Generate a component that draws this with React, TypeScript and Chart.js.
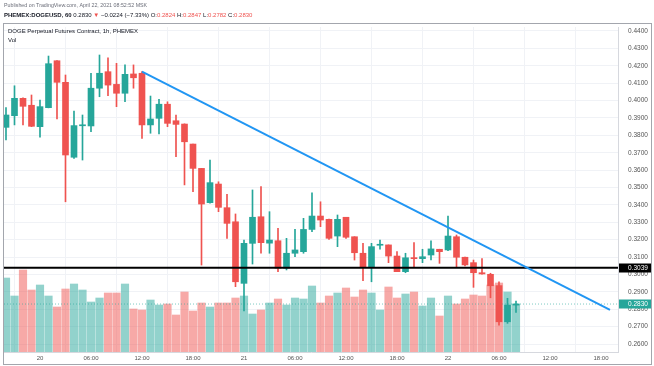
import React, { useEffect, useRef } from "react";
import { Chart, registerables } from "chart.js";

Chart.register(...registerables);

// ---- data (hourly candles, first = 19 Apr 20:00, last = 22 Apr 08:00) ----
const openP = [
  0.3846, 0.3913, 0.4013, 0.3973, 0.385, 0.3959, 0.4229, 0.4105, 0.3674, 0.3855,
  0.3854, 0.4071, 0.4166, 0.4093, 0.4042, 0.4153, 0.4157, 0.386, 0.3898, 0.3979,
  0.3884, 0.3865, 0.375, 0.361, 0.3413, 0.352, 0.3384, 0.3303, 0.2949, 0.3179,
  0.3332, 0.318, 0.3194, 0.3036, 0.3122, 0.3131, 0.3259, 0.3336, 0.3317, 0.3221,
  0.3329, 0.3217, 0.3122, 0.3041, 0.3168, 0.317, 0.3106, 0.3016, 0.3095, 0.3091,
  0.3112, 0.3145, 0.3141, 0.3217, 0.3099, 0.3068, 0.301, 0.3001, 0.2936, 0.2728,
  0.2824,
];
const highP = [
  0.3959, 0.4085, 0.4015, 0.4032, 0.4003, 0.4256, 0.423, 0.4147, 0.394, 0.3917,
  0.4157, 0.4262, 0.4246, 0.4214, 0.4205, 0.4205, 0.4166, 0.4026, 0.4007, 0.3993,
  0.3917, 0.3866, 0.375, 0.361, 0.3658, 0.3533, 0.3461, 0.3348, 0.3198, 0.3486,
  0.3505, 0.3361, 0.3265, 0.3208, 0.3259, 0.3323, 0.347, 0.3418, 0.3318, 0.3342,
  0.3329, 0.3217, 0.3179, 0.3179, 0.3198, 0.317, 0.3131, 0.3122, 0.3183, 0.3145,
  0.3194, 0.3145, 0.3336, 0.3227, 0.31, 0.3083, 0.3091, 0.3007, 0.2958, 0.2863,
  0.2847,
];
const lowP = [
  0.3773, 0.386, 0.386, 0.385, 0.3789, 0.3958, 0.3894, 0.3418, 0.3668, 0.3658,
  0.3821, 0.4022, 0.4028, 0.3965, 0.3993, 0.4071, 0.3783, 0.3812, 0.3808, 0.385,
  0.3677, 0.3515, 0.3476, 0.3054, 0.341, 0.3361, 0.3208, 0.293, 0.279, 0.306,
  0.3122, 0.3122, 0.3016, 0.3026, 0.3102, 0.3122, 0.3246, 0.3275, 0.3202, 0.316,
  0.3208, 0.3083, 0.2964, 0.2958, 0.3145, 0.3068, 0.3016, 0.301, 0.3045, 0.3068,
  0.3083, 0.3064, 0.3137, 0.3045, 0.3049, 0.2926, 0.3002, 0.2866, 0.2709, 0.2719,
  0.2782,
];
const closeP = [
  0.3917, 0.4013, 0.3967, 0.3852, 0.3965, 0.4212, 0.4105, 0.3687, 0.3856, 0.3858,
  0.4071, 0.4157, 0.4089, 0.4042, 0.4151, 0.4131, 0.386, 0.3894, 0.3979, 0.3869,
  0.3863, 0.3763, 0.361, 0.3405, 0.3528, 0.3386, 0.3294, 0.2958, 0.3179, 0.3329,
  0.3183, 0.3198, 0.3036, 0.3122, 0.3141, 0.3259, 0.3336, 0.3313, 0.3208, 0.3317,
  0.3214, 0.3125, 0.3041, 0.316, 0.3172, 0.3106, 0.3016, 0.3096, 0.3091, 0.3102,
  0.3147, 0.3131, 0.3221, 0.3099, 0.3055, 0.301, 0.3003, 0.2935, 0.2728, 0.2824,
  0.283,
];
// volume (hundred-thousand DOGE, estimated)
const volume = [
  74, 56, 82, 62, 67, 56, 45, 63, 68, 62, 50, 54, 59, 59, 68, 43, 42, 52, 47, 48,
  37, 60, 41, 49, 45, 49, 49, 54, 56, 38, 42, 49, 53, 47, 54, 53, 66, 49, 56, 59,
  64, 55, 62, 59, 42, 65, 54, 58, 60, 46, 54, 36, 56, 48, 53, 57, 56, 67, 69, 60,
  48,
];

const timeTickIdx = [4, 10, 16, 22, 28, 34, 40, 46, 52, 58, 64, 70];
const timeTickLabels = ["20", "06:00", "12:00", "18:00", "21", "06:00", "12:00", "18:00", "22", "06:00", "12:00", "18:00"];
const priceTicks = [
  0.26, 0.27, 0.28, 0.29, 0.3, 0.31, 0.32, 0.33, 0.34, 0.35, 0.36, 0.37, 0.38,
  0.39, 0.4, 0.41, 0.42, 0.43, 0.44,
];

const trendX = [16, 71.06];
const trendY = [0.4166, 0.2796];
const levelPrice = 0.3039;
const lastPrice = 0.283;

const X_MIN = -0.235;
const X_MAX = 72;
const Y_MIN = 0.25542;
const Y_MAX = 0.4423;
const VOL_MAX = 325;

const UP = "#26a69a";
const DOWN = "#ef5350";
const UP_VOL = "rgba(38,166,154,0.5)";
const DOWN_VOL = "rgba(239,83,80,0.5)";
const FONT = "'Liberation Sans', Arial, sans-serif";

const overlayPlugin = {
  id: "tvOverlay",
  afterDraw(chart: any) {
    const ctx = chart.ctx as CanvasRenderingContext2D;
    const ys = chart.scales.y;
    ctx.save();
    // frame
    ctx.strokeStyle = "#a3a6ad";
    ctx.lineWidth = 1;
    ctx.strokeRect(3.5, 23.5, 648, 341);

    ctx.textBaseline = "middle";
    ctx.textAlign = "left";
    // header line 1
    ctx.font = `5.3px ${FONT}`;
    ctx.fillStyle = "#6a6d78";
    ctx.fillText("Published on TradingView.com, April 22, 2021 08:52:52 MSK", 4, 6);

    // header line 2
    const segs: [string, string, boolean][] = [
      ["PHEMEX:DOGEUSD, 60 ", "#131722", true],
      ["0.2830 ", "#131722", false],
      ["▼ ", DOWN, false],
      ["−0.0224 (−7.33%) ", "#131722", false],
      ["O:", "#131722", false],
      ["0.2824 ", DOWN, false],
      ["H:", "#131722", false],
      ["0.2847 ", DOWN, false],
      ["L:", "#131722", false],
      ["0.2782 ", DOWN, false],
      ["C:", "#131722", false],
      ["0.2830", DOWN, false],
    ];
    let x = 4;
    for (const [t, c, b] of segs) {
      ctx.font = `${b ? "bold " : ""}6px ${FONT}`;
      ctx.fillStyle = c;
      ctx.fillText(t, x, 15);
      x += ctx.measureText(t).width;
    }

    // pane title
    ctx.font = `6px ${FONT}`;
    ctx.fillStyle = "#131722";
    ctx.fillText("DOGE Perpetual Futures Contract, 1h, PHEMEX", 8, 31);
    ctx.fillText("Vol", 8, 40);

    // price boxes
    const box = (v: number, bg: string) => {
      const y = ys.getPixelForValue(v);
      ctx.fillStyle = bg;
      ctx.fillRect(619, Math.round(y) - 4.5, 32, 9);
      ctx.fillStyle = "#ffffff";
      ctx.font = `6.5px ${FONT}`;
      ctx.fillText(v.toFixed(4), 628, Math.round(y));
    };
    box(levelPrice, "#000000");
    box(lastPrice, UP);
    ctx.restore();
  },
};

export default function App() {
  const ref = useRef<HTMLCanvasElement | null>(null);
  useEffect(() => {
    if (!ref.current) return;
    Chart.defaults.font.family = FONT;
    const n = openP.length;
    const idx = Array.from({ length: n }, (_, i) => i);
    const up = idx.map((i) => closeP[i] >= openP[i]);
    const chart = new Chart(ref.current, {
      type: "bar",
      data: {
        datasets: [
          {
            type: "line",
            data: [
              { x: trendX[0], y: trendY[0] },
              { x: trendX[1], y: trendY[1] },
            ],
            borderColor: "#2196f3",
            borderWidth: 2,
            pointRadius: 0,
            yAxisID: "y",
            order: 0,
          } as any,
          {
            type: "line",
            data: [
              { x: X_MIN, y: levelPrice },
              { x: X_MAX, y: levelPrice },
            ],
            borderColor: "#000000",
            borderWidth: 2,
            pointRadius: 0,
            yAxisID: "y",
            order: 1,
          } as any,
          {
            data: idx.map((i) => ({ x: i, y: [openP[i], closeP[i]] })),
            backgroundColor: idx.map((i) => (up[i] ? UP : DOWN)),
            barThickness: 6,
            minBarLength: 1,
            borderWidth: 0,
            yAxisID: "y",
            order: 2,
          } as any,
          {
            data: idx.map((i) => ({ x: i, y: [lowP[i], highP[i]] })),
            backgroundColor: idx.map((i) => (up[i] ? UP : DOWN)),
            barThickness: 1,
            borderWidth: 0,
            yAxisID: "y",
            order: 3,
          } as any,
          {
            type: "line",
            data: [
              { x: X_MIN, y: lastPrice },
              { x: X_MAX, y: lastPrice },
            ],
            borderColor: "rgba(38,166,154,0.6)",
            borderWidth: 1,
            borderDash: [1, 2],
            pointRadius: 0,
            yAxisID: "y",
            order: 4,
          } as any,
          {
            data: idx.map((i) => ({ x: i, y: volume[i] })),
            backgroundColor: idx.map((i) => (up[i] ? UP_VOL : DOWN_VOL)),
            barThickness: 7.5,
            borderWidth: 0,
            yAxisID: "vol",
            order: 5,
          } as any,
        ],
      },
      options: {
        animation: false,
        responsive: false,
        maintainAspectRatio: false,
        layout: { padding: { left: 4, top: 27, right: 0, bottom: 0 } },
        plugins: { legend: { display: false }, tooltip: { enabled: false } },
        datasets: { bar: { grouped: false } } as any,
        scales: {
          x: {
            type: "linear",
            min: X_MIN,
            max: X_MAX,
            offset: false,
            grid: { color: "#f0f2f6", drawTicks: false },
            border: { display: true, color: "#d6d8de" },
            ticks: {
              padding: 3,
              color: "#555",
              font: { size: 6 },
              maxRotation: 0,
              autoSkip: false,
              callback: (_v: any, i: number) => timeTickLabels[i],
            },
            afterBuildTicks: (s: any) => {
              s.ticks = timeTickIdx.map((v) => ({ value: v }));
            },
            afterFit: (s: any) => {
              s.height = 14;
            },
          },
          y: {
            type: "linear",
            position: "right",
            min: Y_MIN,
            max: Y_MAX,
            grid: { color: "#f0f2f6", drawTicks: false },
            border: { display: true, color: "#d6d8de" },
            ticks: {
              padding: 10,
              color: "#555",
              font: { size: 6.5 },
              callback: (v: any) => Number(v).toFixed(4),
            },
            afterBuildTicks: (s: any) => {
              s.ticks = priceTicks.map((v) => ({ value: v }));
            },
            afterFit: (s: any) => {
              s.width = 36;
            },
          },
          vol: {
            type: "linear",
            display: false,
            min: 0,
            max: VOL_MAX,
          },
        },
      } as any,
      plugins: [overlayPlugin],
    });
    return () => chart.destroy();
  }, []);
  return (
    <div style={{ position: "fixed", left: 0, top: 0, width: 654, height: 366, background: "#fff" }}>
      <canvas ref={ref} width={654} height={366} style={{ width: 654, height: 366, display: "block" }} />
    </div>
  );
}
